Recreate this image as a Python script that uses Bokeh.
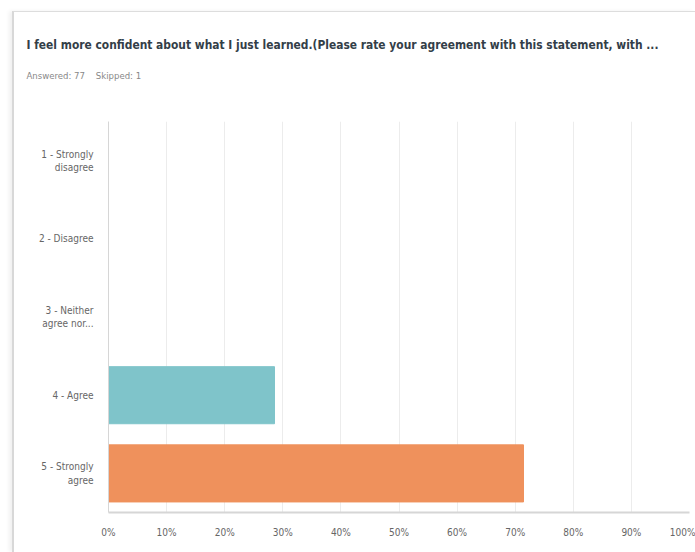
from bokeh.plotting import figure
from bokeh.models import ColumnDataSource, Title, NumeralTickFormatter, FixedTicker
from bokeh.embed import file_html
from bokeh.resources import INLINE

categories = ["1 - Strongly\ndisagree", "2 - Disagree", "3 - Neither\nagree nor...", "4 - Agree", "5 - Strongly\nagree"]
percents = [0.0, 0.0, 0.0, 22 / 77, 55 / 77]
colors = ["#7fc4ca", "#7fc4ca", "#7fc4ca", "#7fc4ca", "#ef915c"]
x_ticks = [0, 0.1, 0.2, 0.3, 0.4, 0.5, 0.6, 0.7, 0.8, 0.9, 1.0]
title_text = "I feel more confident about what I just learned.(Please rate your agreement with this statement, with ..."
sub_text = "Answered: 77\u00a0\u00a0\u00a0\u00a0Skipped: 1"

src = ColumnDataSource(dict(cat=categories, pct=percents, color=colors))

p = figure(width=683, height=541, y_range=list(reversed(categories)), x_range=(0, 1),
           output_backend="svg", toolbar_location=None, title=None,
           min_border_left=94, min_border_right=8, min_border_top=109, min_border_bottom=41)
p.margin = (11, 0, 0, 12)
p.styles = {"border-top": "1.5px solid #dddddd", "border-left": "2px solid #d8d8d8",
            "box-shadow": "-3px 0px 4px rgba(0,0,0,0.06)"}

p.hbar(y="cat", right="pct", left=0, height=0.73, color="color", source=src)

p.outline_line_color = None
p.ygrid.grid_line_color = None
p.xgrid.grid_line_color = "#ececec"
p.xgrid.ticker = FixedTicker(ticks=x_ticks)
p.xaxis.ticker = FixedTicker(ticks=x_ticks)
p.xaxis.formatter = NumeralTickFormatter(format="0%")
p.xaxis.axis_line_color = "#d6d6d6"
p.xaxis.axis_line_width = 2
p.xaxis.major_tick_line_color = None
p.xaxis.minor_tick_line_color = None
p.xaxis.major_label_standoff = 8
p.xaxis.major_label_text_font = "DejaVu Sans Condensed"
p.xaxis.major_label_text_font_size = "10px"
p.xaxis.major_label_text_color = "#666666"

p.yaxis.axis_line_color = "#d6d6d6"
p.yaxis.major_tick_line_color = None
p.yaxis.minor_tick_line_color = None
p.yaxis.major_label_standoff = 9
p.yaxis.major_label_text_font = "DejaVu Sans Condensed"
p.yaxis.major_label_text_font_size = "10px"
p.yaxis.major_label_text_color = "#666666"

# spacer (closest to frame), subtitle, then title on top
p.add_layout(Title(text="\u00a0", text_font_size="1px", standoff=33), "above")
p.add_layout(Title(text=sub_text, text_font="DejaVu Sans Condensed", text_font_size="9.5px",
                   text_color="#888888", text_font_style="normal", align="left",
                   offset=-82, standoff=10), "above")
p.add_layout(Title(text=title_text, text_font="DejaVu Sans Condensed", text_font_size="11.9px",
                   text_color="#333e48", text_font_style="bold", align="left",
                   offset=-82, standoff=21), "above")

open("out.html", "w").write(file_html(p, INLINE))
